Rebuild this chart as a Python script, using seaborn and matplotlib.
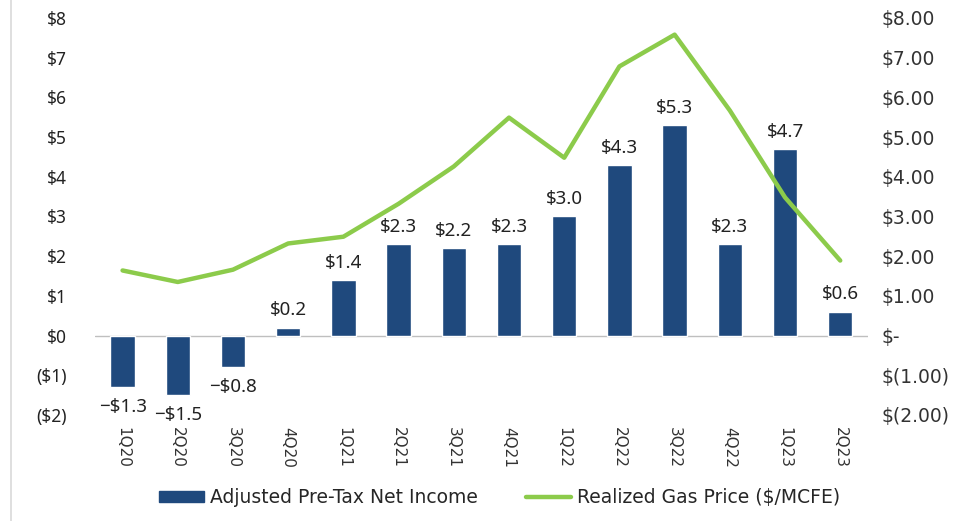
import matplotlib
matplotlib.use('Agg')
import matplotlib.pyplot as plt
import seaborn as sb
import pandas as pd
from matplotlib.lines import Line2D
from matplotlib.patches import Patch

quarters = ['1Q20', '2Q20', '3Q20', '4Q20', '1Q21', '2Q21', '3Q21',
            '4Q21', '1Q22', '2Q22', '3Q22', '4Q22', '1Q23', '2Q23']
net_income = [-1.3, -1.5, -0.8, 0.2, 1.4, 2.3, 2.2,
              2.3, 3.0, 4.3, 5.3, 2.3, 4.7, 0.6]
gas_price = [1.64, 1.35, 1.66, 2.32, 2.49, 3.32, 4.26,
             5.49, 4.48, 6.78, 7.58, 5.67, 3.48, 1.89]
left_ticks = ['($2)', '($1)', '$0', '$1', '$2', '$3', '$4', '$5', '$6', '$7', '$8']
right_ticks = ['$(2.00)', '$(1.00)', '$-', '$1.00', '$2.00', '$3.00',
               '$4.00', '$5.00', '$6.00', '$7.00', '$8.00']

navy = '#1F497D'
green = '#8CCB4B'
wide = ['DejaVu Sans']
sans = ['Noto Sans', 'DejaVu Sans']

df = pd.DataFrame({'quarter': quarters, 'income': net_income, 'gas': gas_price})

sb.set_style('white')
plt.rcParams['font.family'] = sans

fig = plt.figure(figsize=(9.74, 5.21), dpi=100)
ax = fig.add_axes([0.0975, 0.2035, 0.7935, 0.762])

sb.barplot(data=df, x='quarter', y='income', color=navy, width=0.44,
           saturation=1, ax=ax)
ax.set_xlim(-0.5, len(quarters) - 0.5)
ax.set_ylim(-2, 8)
ax.set_yticks(range(-2, 9))
ax.set_yticklabels(left_ticks, fontsize=12.5, color='#222222', family=sans)
ax.tick_params(axis='y', length=0, pad=20)
ax.tick_params(axis='x', length=0, pad=9)
ax.set_xticks(range(len(quarters)))
ax.set_xticklabels(quarters, rotation=-90, fontsize=11, color='#333333', family=wide)
ax.set_xlabel('')
ax.set_ylabel('')
ax.axhline(0, color='#BFBFBF', lw=1, zorder=0)
for s in ax.spines.values():
    s.set_visible(False)

for i, v in enumerate(net_income):
    if v >= 0:
        ax.annotate(f'${v:.1f}', (i, v), xytext=(0, 6), textcoords='offset points',
                    ha='center', va='bottom', fontsize=13.5, color='#222222',
                    family=sans)
    else:
        ax.annotate(f'\u2212${abs(v):.1f}', (i, v), xytext=(0, -8), textcoords='offset points',
                    ha='center', va='top', fontsize=13.5, color='#222222',
                    family=sans, annotation_clip=False)

ax2 = ax.twinx()
sb.lineplot(data=df, x='quarter', y='gas', color=green, lw=3.2, ax=ax2, sort=False)
ax2.set_ylim(-2, 8)
ax2.set_yticks(range(-2, 9))
ax2.set_yticklabels(right_ticks, fontsize=13.5, color='#333333', family=wide)
ax2.tick_params(axis='y', length=0, pad=10)
ax2.set_ylabel('')
ax2.set_xlim(-0.5, len(quarters) - 0.5)
for s in ax2.spines.values():
    s.set_visible(False)

handles = [Patch(color=navy), Line2D([0], [0], color=green, lw=3.2)]
fig.legend(handles, ['Adjusted Pre-Tax Net Income', 'Realized Gas Price ($/MCFE)'],
           loc='center', bbox_to_anchor=(0.513, 0.045), ncol=2, frameon=False,
           prop={'family': wide, 'size': 13.5},
           handlelength=2.4, handleheight=0.5, handletextpad=0.3, columnspacing=2.6)

fig.add_artist(Line2D([0.011, 0.011], [0, 1], color='#D9D9D9', lw=1.2))

fig.savefig('out.png', dpi=100)
plt.close()
